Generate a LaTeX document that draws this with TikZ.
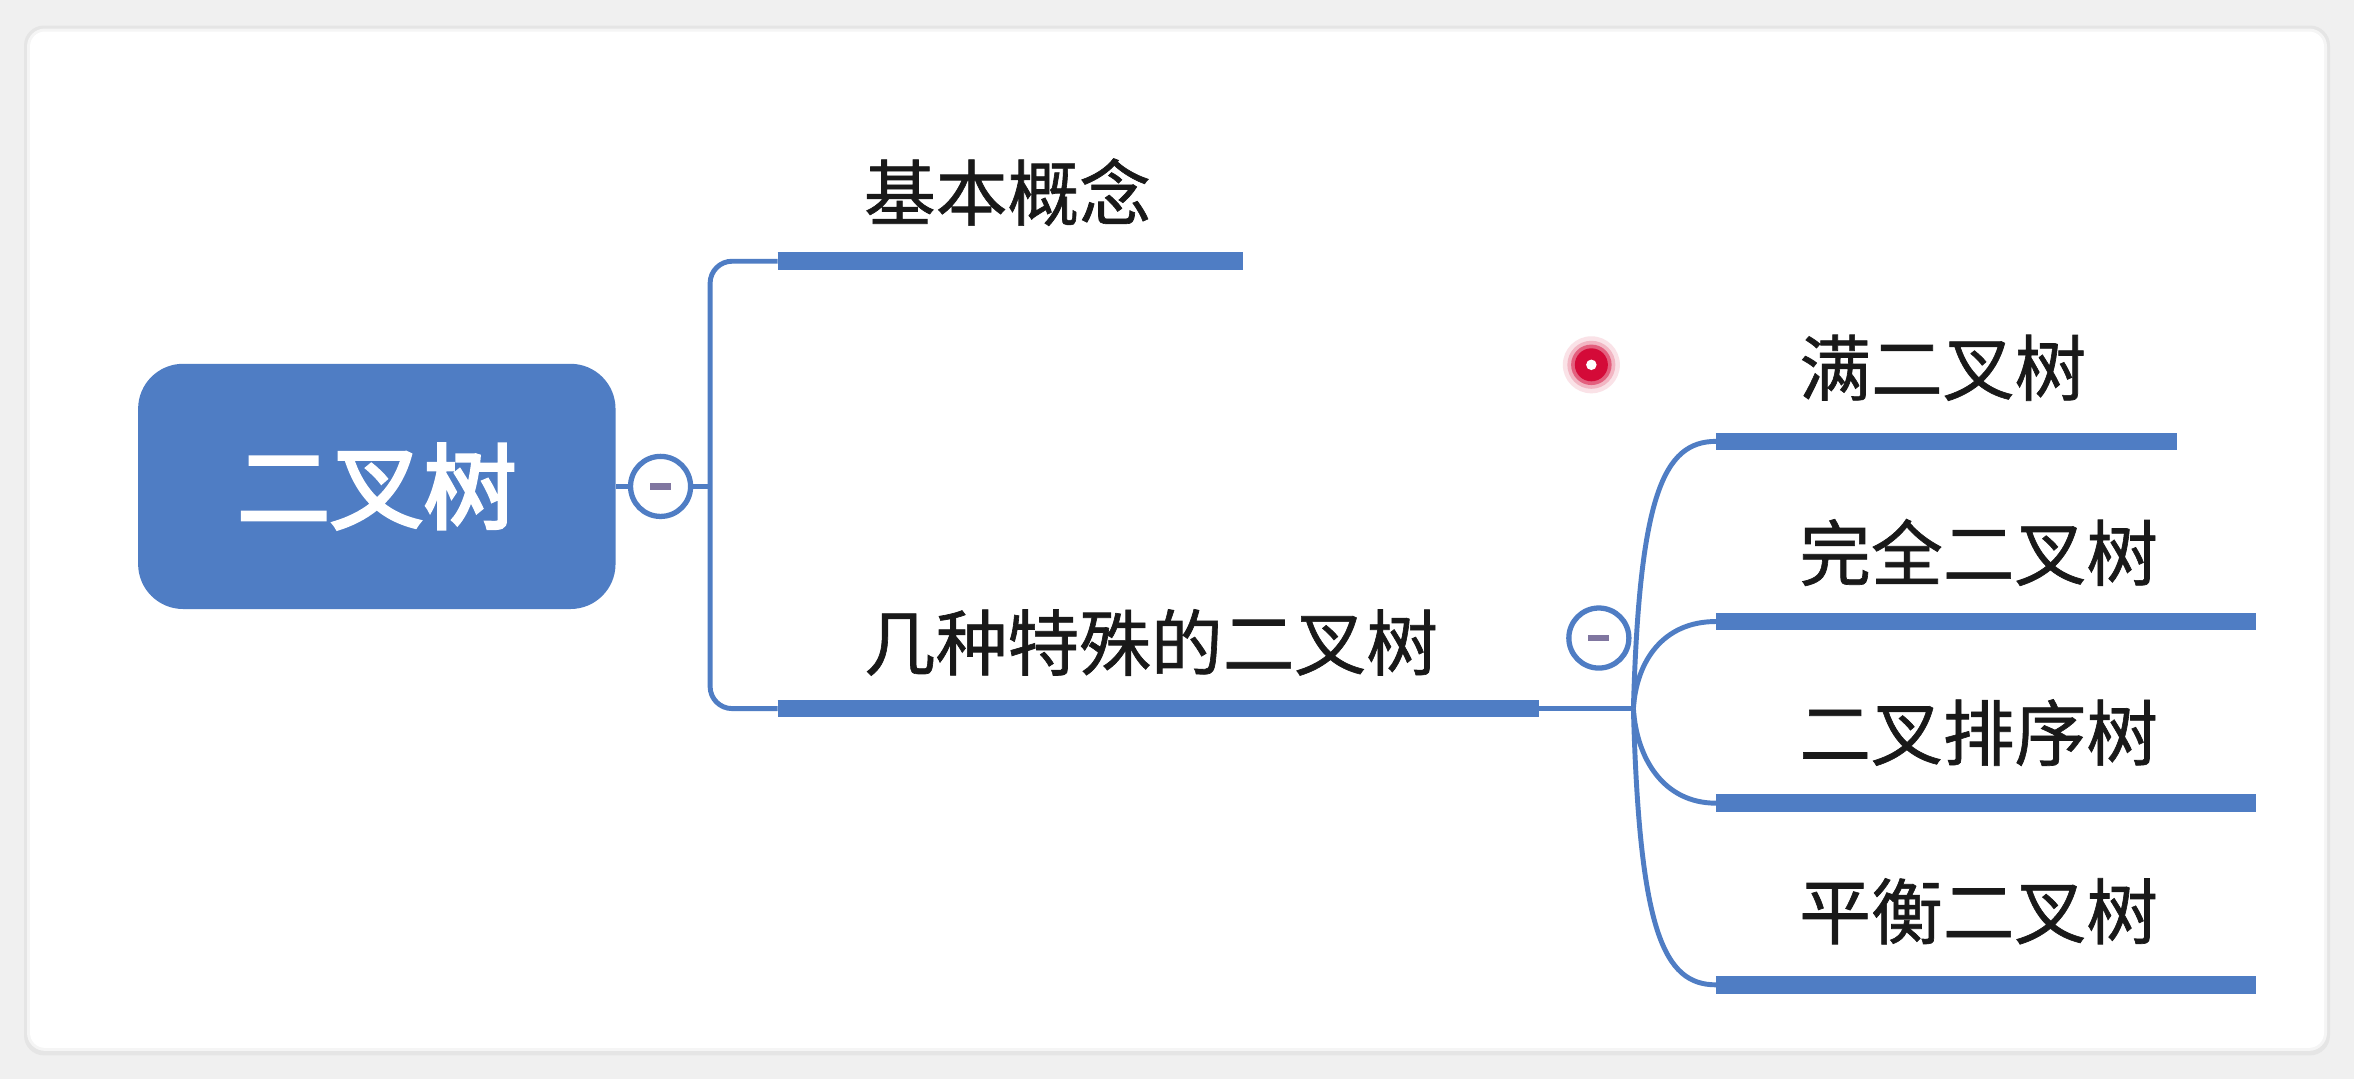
\documentclass[tikz,border=0pt]{standalone}
\usepackage{fontspec}
\newfontfamily\cjk[AutoFakeBold=3.2]{Noto Sans CJK SC}
\newfontfamily\cjkmid[FakeBold=0.9]{Noto Sans CJK SC}
\usetikzlibrary{positioning,calc}
\definecolor{mapblue}{RGB}{79,125,196}
\definecolor{minusgray}{RGB}{128,118,160}
\definecolor{dotred}{RGB}{212,10,56}

\begin{document}
\begin{tikzpicture}[x=0.015cm,y=-0.015cm,
    mroot/.style={fill=mapblue,rounded corners=0.45cm,minimum width=4.77cm,
        minimum height=2.45cm,text=white,font=\cjk\bfseries\fontsize{26.5}{30}\selectfont},
    mtopic/.style={anchor=west,inner sep=0pt,text=black!90,
        font=\cjkmid\fontsize{20.4}{24}\selectfont},
    mbar/.style={draw=mapblue,line width=5pt},
    mlink/.style={draw=mapblue,line width=1.4pt},
    mfold/.style={circle,draw=mapblue,fill=white,line width=1.5pt,
        minimum size=0.6cm,inner sep=0pt},
    mminus/.style={draw=minusgray,line width=1.8pt}
]
\useasboundingbox (0,0) rectangle (1568,719);
% page and card
\fill[black!6] (0,0) rectangle (1568,719);
\fill[black!10,rounded corners=0.2cm] (16,17) rectangle (1552,703);
\fill[black!4,rounded corners=0.18cm] (18,19) rectangle (1550,700);
\fill[white,rounded corners=0.15cm] (20,21) rectangle (1548,698);

\node[mroot] (root) at (251,324) {二叉树};
\node[mfold] (fold1) at (440,324) {};
\draw[mminus] ($(fold1)+(-7,0)$)--($(fold1)+(7,0)$);
\coordinate (trunk) at (473,324);

% first level
\coordinate (basicL) at (518,174);
\coordinate (basicR) at (828,174);
\coordinate (specL) at (518,472);
\coordinate (specR) at (1025,472);
\node[mtopic] (basic) at ($(basicL)+(57,-46)$) {基本概念};
\node[mtopic] (spec) at ($(specL)+(57,-44)$) {几种特殊的二叉树};
\draw[mlink] (root.east)--(fold1.west);
\draw[mlink] (fold1.east)--(trunk);
\draw[mlink,rounded corners=0.22cm] (basicL) -| (trunk) |- (specL);
\draw[mbar] (basicL)--(basicR);
\draw[mbar] (specL)--(specR);

% second level
\node[mfold] (fold2) at (1065,425) {};
\draw[mminus] ($(fold2)+(-7,0)$)--($(fold2)+(7,0)$);
\coordinate (junc) at (1088,472);
\coordinate (fullL) at (1143,294);
\coordinate (fullR) at (1450,294);
\coordinate (compL) at (1143,414);
\coordinate (compR) at (1503,414);
\coordinate (sortL) at (1143,535);
\coordinate (sortR) at (1503,535);
\coordinate (balL) at (1143,656);
\coordinate (balR) at (1503,656);
\node[mtopic] (full) at ($(fullL)+(55,-49)$) {满二叉树};
\node[mtopic] (comp) at ($(compL)+(55,-46)$) {完全二叉树};
\node[mtopic] (sort) at ($(sortL)+(55,-47)$) {二叉排序树};
\node[mtopic] (bal) at ($(balL)+(55,-49)$) {平衡二叉树};
\draw[mlink] (specR)--(junc);
\draw[mlink] (junc) .. controls (1092,330) and (1108,294) .. (fullL);
\draw[mlink] (junc) .. controls (1090,440) and (1108,414) .. (compL);
\draw[mlink] (junc) .. controls (1090,505) and (1108,535) .. (sortL);
\draw[mlink] (junc) .. controls (1092,620) and (1108,656) .. (balL);
\draw[mbar] (fullL)--(fullR);
\draw[mbar] (compL)--(compR);
\draw[mbar] (sortL)--(sortR);
\draw[mbar] (balL)--(balR);

% pointer dot
\coordinate (pointer) at (1060,243);
\fill[dotred!12] (pointer) circle (19);
\fill[dotred!30] (pointer) circle (16);
\fill[dotred!65] (pointer) circle (13.5);
\fill[dotred] (pointer) circle (11);
\fill[white] (pointer) circle (3.5);
\end{tikzpicture}
\end{document}
